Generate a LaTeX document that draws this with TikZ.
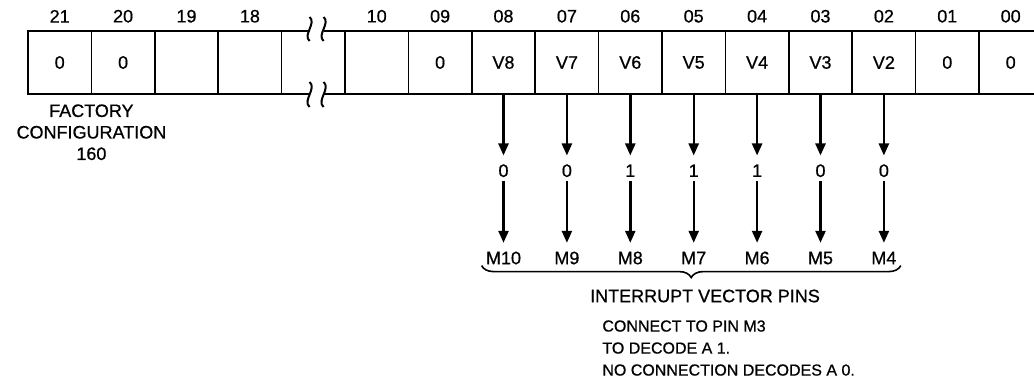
\documentclass[tikz,border=0pt]{standalone}
\usepackage{fontspec}
\setmainfont[FakeBold=0.7]{Liberation Sans}
\usetikzlibrary{positioning,decorations.pathreplacing,arrows.meta}

\begin{document}
\begin{tikzpicture}[x=0.5pt,y=-0.5pt,>={Triangle[length=6pt,width=5pt]},node distance=2pt,
    cell/.style={draw,line width=0.8pt,minimum width=31.7pt,minimum height=31.5pt,inner sep=0pt,outer sep=0pt,font=\fontsize{9}{10}\selectfont},
    gapcell/.style={minimum width=31.7pt,minimum height=31.5pt,inner sep=0pt,outer sep=0pt},
    bitno/.style={inner sep=2pt,font=\fontsize{9}{10}\selectfont},
    bit/.style={inner sep=2pt,text height=6.5pt,text depth=0pt,font=\fontsize{9}{10}\selectfont},
    frame/.style={line width=1.4pt},
    wire/.style={->,line width=1.2pt,shorten >=2pt},
    brace/.style={decorate,decoration={brace,mirror,amplitude=6pt},line width=0.8pt},
    ]
    \useasboundingbox (0,0) rectangle (1034,379);

    % register cells
    \node [cell](c21) at (59.7,62.5) {0};
    \node [cell](c20) [right=0pt of c21] {0};
    \node [cell](c19) [right=0pt of c20] {};
    \node [cell](c18) [right=0pt of c19] {};
    \node [gapcell](gap) [right=0pt of c18] {};
    \node [cell](c10) [right=0pt of gap] {};
    \node [cell](c09) [right=0pt of c10] {0};
    \node [cell](c08) [right=0pt of c09] {V8};
    \node [cell](c07) [right=0pt of c08] {V7};
    \node [cell](c06) [right=0pt of c07] {V6};
    \node [cell](c05) [right=0pt of c06] {V5};
    \node [cell](c04) [right=0pt of c05] {V4};
    \node [cell](c03) [right=0pt of c04] {V3};
    \node [cell](c02) [right=0pt of c03] {V2};
    \node [cell](c01) [right=0pt of c02] {0};
    \node [cell](c00) [right=0pt of c01] {0};

    % bit numbers
    \node [bitno](n21) [above=of c21] {21};
    \node [bitno](n20) [above=of c20] {20};
    \node [bitno](n19) [above=of c19] {19};
    \node [bitno](n18) [above=of c18] {18};
    \node [bitno](n10) [above=of c10] {10};
    \node [bitno](n09) [above=of c09] {09};
    \node [bitno](n08) [above=of c08] {08};
    \node [bitno](n07) [above=of c07] {07};
    \node [bitno](n06) [above=of c06] {06};
    \node [bitno](n05) [above=of c05] {05};
    \node [bitno](n04) [above=of c04] {04};
    \node [bitno](n03) [above=of c03] {03};
    \node [bitno](n02) [above=of c02] {02};
    \node [bitno](n01) [above=of c01] {01};
    \node [bitno](n00) [above=of c00] {00};

    % outer frame with the break
    \coordinate (tl) at ([xshift=14pt]gap.north west);
    \coordinate (tr) at ([xshift=21pt]gap.north west);
    \coordinate (bl) at ([xshift=14pt]gap.south west);
    \coordinate (br) at ([xshift=21pt]gap.south west);
    \draw[frame] (tl) -- (c21.north west) -- (c21.south west) -- (bl);
    \draw[frame] (tr) -- (c00.north east) -- (c00.south east) -- (br);
    \draw[line width=1pt] ([yshift=7pt]tl) to[out=-40,in=140] ([yshift=-5pt]tl);
    \draw[line width=1pt] ([yshift=7pt]tr) to[out=-40,in=140] ([yshift=-5pt]tr);
    \draw[line width=1pt] ([yshift=6pt]bl) to[out=-40,in=140] ([yshift=-6.5pt]bl);
    \draw[line width=1pt] ([yshift=6pt]br) to[out=-40,in=140] ([yshift=-6.5pt]br);

    \node [align=center,inner sep=0pt,font=\fontsize{9}{10.75}\selectfont](factory) [below=5pt of c21.south east] {FACTORY\\CONFIGURATION\\160};

    % decoded values
    \node [bit](d08) [below=32.75pt of c08] {0};
    \node [bit](d07) [below=32.75pt of c07] {0};
    \node [bit](d06) [below=32.75pt of c06] {1};
    \node [bit](d05) [below=32.75pt of c05] {1};
    \node [bit](d04) [below=32.75pt of c04] {1};
    \node [bit](d03) [below=32.75pt of c03] {0};
    \node [bit](d02) [below=32.75pt of c02] {0};

    % pins
    \node [bit](m10) [below=32.75pt of d08] {M10};
    \node [bit](m9) [below=32.75pt of d07] {M9};
    \node [bit](m8) [below=32.75pt of d06] {M8};
    \node [bit](m7) [below=32.75pt of d05] {M7};
    \node [bit](m6) [below=32.75pt of d04] {M6};
    \node [bit](m5) [below=32.75pt of d03] {M5};
    \node [bit](m4) [below=32.75pt of d02] {M4};

    \path[wire]
        (c08) edge (d08)
        (c07) edge (d07)
        (c06) edge (d06)
        (c05) edge (d05)
        (c04) edge (d04)
        (c03) edge (d03)
        (c02) edge (d02)
        (d08) edge (m10)
        (d07) edge (m9)
        (d06) edge (m8)
        (d05) edge (m7)
        (d04) edge (m6)
        (d03) edge (m5)
        (d02) edge (m4)
    ;

    \draw[brace] ([yshift=1.5pt]m10.south west) -- ([yshift=1.5pt]m4.south east);
    \node [inner sep=0pt,font=\fontsize{9}{10}\selectfont](pins) at (705,296) {INTERRUPT VECTOR PINS};
    \node [anchor=north west,align=left,inner sep=0pt,font=\fontsize{8}{11}\selectfont](note) at (602,320) {CONNECT TO PIN M3\\TO DECODE A 1.\\NO CONNECTION DECODES A 0.};

\end{tikzpicture}
\end{document}
